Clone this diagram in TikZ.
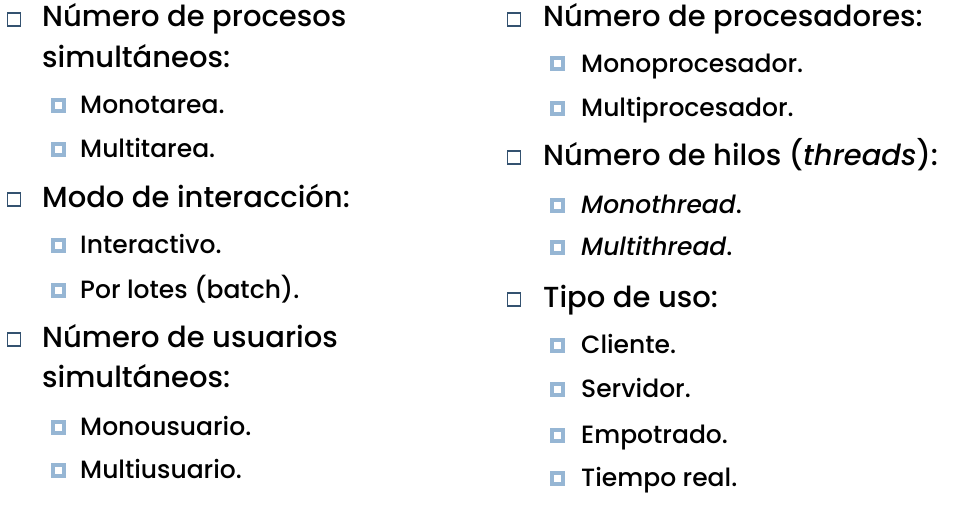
\documentclass[tikz,border=0pt]{standalone}
\usepackage{fontspec}
\setmainfont{Poppins}[UprightFont=* Medium,ItalicFont=* Medium Italic]

\definecolor{boxdark}{RGB}{52,82,112}
\definecolor{boxlight}{RGB}{150,182,212}

\tikzset{
  itemone/.style={anchor=base west,inner sep=0pt,align=left,
    font=\fontsize{29}{40}\selectfont},
  itemtwo/.style={anchor=base west,inner sep=0pt,
    font=\fontsize{25}{30}\selectfont},
  boxone/.style={draw=boxdark,line width=1.5pt,minimum size=13pt,inner sep=0pt},
  boxtwo/.style={draw=boxlight,fill=white,line width=4pt,minimum size=11pt,inner sep=0pt}
}

\begin{document}
\begin{tikzpicture}[x=1pt,y=-1pt]

      \useasboundingbox (0,0) rectangle (966,511);

      % left column
      \node[boxone] (b1) at (14,19.5) {};
      \node[itemone] (t1) at (42,67) {Número de procesos\\simultáneos:};
      \node[boxtwo] (b11) at (58.5,105) {};
      \node[itemtwo] (t11) at (80,113) {Monotarea.};
      \node[boxtwo] (b12) at (58.5,149) {};
      \node[itemtwo] (t12) at (80,157) {Multitarea.};

      \node[boxone] (b2) at (14,199.5) {};
      \node[itemone] (t2) at (42,207) {Modo de interacción:};
      \node[boxtwo] (b21) at (58.5,245) {};
      \node[itemtwo] (t21) at (80,253) {Interactivo.};
      \node[boxtwo] (b22) at (58.5,290) {};
      \node[itemtwo] (t22) at (80,298) {Por lotes (batch).};

      \node[boxone] (b3) at (14,339.5) {};
      \node[itemone] (t3) at (42,387) {Número de usuarios\\simultáneos:};
      \node[boxtwo] (b31) at (58.5,427) {};
      \node[itemtwo] (t31) at (80,435) {Monousuario.};
      \node[boxtwo] (b32) at (58.5,470) {};
      \node[itemtwo] (t32) at (80,478) {Multiusuario.};

      % right column
      \node[boxone] (b4) at (514,19.5) {};
      \node[itemone] (t4) at (543,27) {Número de procesadores:};
      \node[boxtwo] (b41) at (557.5,64) {};
      \node[itemtwo] (t41) at (581,72) {Monoprocesador.};
      \node[boxtwo] (b42) at (557.5,108) {};
      \node[itemtwo] (t42) at (581,116) {Multiprocesador.};

      \node[boxone] (b5) at (514,157.5) {};
      \node[itemone] (t5) at (543,165) {Número de hilos (\textit{threads}):};
      \node[boxtwo] (b51) at (557.5,205) {};
      \node[itemtwo] (t51) at (581,213) {\textit{Monothread}.};
      \node[boxtwo] (b52) at (557.5,247) {};
      \node[itemtwo] (t52) at (581,255) {\textit{Multithread}.};

      \node[boxone] (b6) at (514,299.5) {};
      \node[itemone] (t6) at (543,307) {Tipo de uso:};
      \node[boxtwo] (b61) at (557.5,345) {};
      \node[itemtwo] (t61) at (581,353) {Cliente.};
      \node[boxtwo] (b62) at (557.5,389) {};
      \node[itemtwo] (t62) at (581,397) {Servidor.};
      \node[boxtwo] (b63) at (557.5,435) {};
      \node[itemtwo] (t63) at (581,443) {Empotrado.};
      \node[boxtwo] (b64) at (557.5,478) {};
      \node[itemtwo] (t64) at (581,486) {Tiempo real.};

    \end{tikzpicture}
\end{document}
